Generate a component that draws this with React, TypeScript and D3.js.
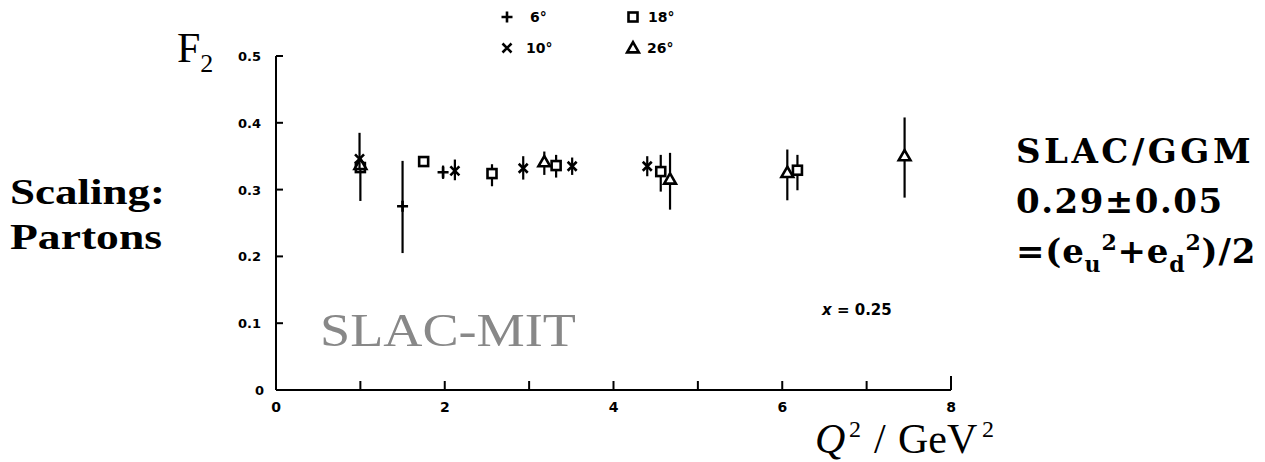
import React from "react";
import * as d3 from "d3";

// F2 structure function at x = 0.25 versus Q^2, grouped by spectrometer angle
type Pt = { q: number; f: number; lo: number; hi: number };

const deg6: Pt[] = [
  { q: 1.5, f: 0.275, lo: 0.205, hi: 0.343 },
  { q: 1.98, f: 0.326, lo: 0.316, hi: 0.336 },
];
const deg10: Pt[] = [
  { q: 0.99, f: 0.346, lo: 0.33, hi: 0.385 },
  { q: 2.12, f: 0.328, lo: 0.314, hi: 0.345 },
  { q: 2.93, f: 0.332, lo: 0.315, hi: 0.35 },
  { q: 3.51, f: 0.335, lo: 0.322, hi: 0.348 },
  { q: 4.4, f: 0.335, lo: 0.32, hi: 0.35 },
];
const deg18: Pt[] = [
  { q: 1.0, f: 0.333, lo: 0.283, hi: 0.345 },
  { q: 1.75, f: 0.342, lo: 0.335, hi: 0.35 },
  { q: 2.56, f: 0.324, lo: 0.305, hi: 0.338 },
  { q: 3.32, f: 0.336, lo: 0.318, hi: 0.352 },
  { q: 4.56, f: 0.327, lo: 0.297, hi: 0.352 },
  { q: 6.18, f: 0.329, lo: 0.299, hi: 0.352 },
];
const deg26: Pt[] = [
  { q: 1.0, f: 0.336, lo: 0.325, hi: 0.345 },
  { q: 3.18, f: 0.34, lo: 0.322, hi: 0.357 },
  { q: 4.67, f: 0.314, lo: 0.27, hi: 0.355 },
  { q: 6.06, f: 0.324, lo: 0.284, hi: 0.36 },
  { q: 7.45, f: 0.349, lo: 0.288, hi: 0.408 },
];

const xTicks = [0, 2, 4, 6, 8];
const xMinor = [1, 2, 3, 4, 5, 6, 7, 8];
const yTicks = [0, 0.1, 0.2, 0.3, 0.4, 0.5];

const x = d3.scaleLinear().domain([0, 8]).range([276, 951]);
const y = d3.scaleLinear().domain([0, 0.5]).range([390, 56]);

const ink = "#000";

function Marker({ kind, cx, cy }: { kind: string; cx: number; cy: number }) {
  const s = 4.5;
  if (kind === "plus")
    return (
      <path
        d={`M${cx - s - 1},${cy}H${cx + s + 1}M${cx},${cy - s - 1}V${cy + s + 1}`}
        stroke={ink}
        strokeWidth={2.6}
      />
    );
  if (kind === "cross")
    return (
      <path
        d={`M${cx - s},${cy - s}L${cx + s},${cy + s}M${cx + s},${cy - s}L${cx - s},${cy + s}`}
        stroke={ink}
        strokeWidth={2.6}
      />
    );
  if (kind === "square")
    return (
      <rect
        x={cx - s}
        y={cy - s}
        width={2 * s}
        height={2 * s}
        fill="#fff"
        stroke={ink}
        strokeWidth={2.6}
      />
    );
  const sym = d3.symbol(d3.symbolTriangle, 60)();
  return (
    <path
      d={sym as string}
      transform={`translate(${cx},${cy})`}
      fill="#fff"
      stroke={ink}
      strokeWidth={2.6}
    />
  );
}

function Series({ data, kind }: { data: Pt[]; kind: string }) {
  return (
    <g>
      {data.map((d, i) => (
        <g key={i}>
          <line
            x1={x(d.q)}
            x2={x(d.q)}
            y1={y(d.lo)}
            y2={y(d.hi)}
            stroke={ink}
            strokeWidth={2.2}
          />
          <Marker kind={kind} cx={x(d.q)} cy={y(d.f)} />
        </g>
      ))}
    </g>
  );
}

const tickFont = "'DejaVu Sans', Arial, sans-serif";
const times = "'Liberation Serif', 'Times New Roman', serif";
const wideSerif = "'DejaVu Serif', 'Liberation Serif', serif";

export default function App() {
  return (
    <svg
      width={1265}
      height={462}
      style={{ position: "absolute", left: 0, top: 0, background: "#fff" }}
    >
      {/* axes */}
      <line x1={x(0)} x2={x(0)} y1={y(0)} y2={y(0.5)} stroke={ink} strokeWidth={2} />
      <line x1={x(0)} x2={x(8)} y1={y(0)} y2={y(0)} stroke={ink} strokeWidth={2} />
      {yTicks.slice(1).map((t) => (
        <line key={t} x1={x(0)} x2={x(0) + 7} y1={y(t)} y2={y(t)} stroke={ink} strokeWidth={2} />
      ))}
      {yTicks.map((t) => (
        <text
          key={t}
          x={t === 0 ? x(0) - 12 : x(0) - 15}
          y={y(t) + 5}
          textAnchor="end"
          fontFamily={tickFont}
          fontWeight="bold"
          fontSize={13}
        >
          {t === 0 ? "0" : d3.format(".1f")(t)}
        </text>
      ))}
      {xMinor.map((t) => (
        <line
          key={t}
          x1={x(t)}
          x2={x(t)}
          y1={y(0)}
          y2={y(0) - (t === 8 ? 14 : 9)}
          stroke={ink}
          strokeWidth={2}
        />
      ))}
      {xTicks.map((t) => (
        <text
          key={t}
          x={x(t)}
          y={y(0) + 22}
          textAnchor="middle"
          fontFamily={tickFont}
          fontWeight="bold"
          fontSize={14}
        >
          {t}
        </text>
      ))}

      {/* data */}
      <Series data={deg18} kind="square" />
      <Series data={deg26} kind="triangle" />
      <Series data={deg10} kind="cross" />
      <Series data={deg6} kind="plus" />

      {/* legend */}
      <g fontFamily={tickFont} fontWeight="bold" fontSize={14}>
        <Marker kind="plus" cx={507} cy={17} />
        <text x={530} y={22}>6°</text>
        <Marker kind="square" cx={633} cy={17} />
        <text x={648} y={22}>18°</text>
        <Marker kind="cross" cx={507} cy={48} />
        <text x={526} y={53}>10°</text>
        <Marker kind="triangle" cx={633} cy={49} />
        <text x={647} y={53}>26°</text>
      </g>

      {/* axis titles */}
      <text x={177} y={62} fontFamily={times} fontSize={42}>
        F
        <tspan fontSize={26} dy={10}>2</tspan>
      </text>
      <text y={453} fontFamily={times} fontSize={42}>
        <tspan x={815} fontStyle="italic">Q</tspan>
        <tspan x={849} dy={-16} fontSize={24}>2</tspan>
        <tspan x={874} dy={16}>/</tspan>
        <tspan x={898}>GeV</tspan>
        <tspan x={982} dy={-16} fontSize={24}>2</tspan>
      </text>

      <text x={822} y={315} fontFamily={tickFont} fontWeight="bold" fontSize={15}>
        <tspan fontStyle="italic">x</tspan> = 0.25
      </text>

      <text
        x={320}
        y={346}
        fontFamily={times}
        fontSize={46}
        fill="#888"
        textLength={256}
        lengthAdjust="spacingAndGlyphs"
      >
        SLAC-MIT
      </text>

      {/* annotations */}
      <g fontFamily={times} fontWeight="bold" fontSize={36}>
        <text x={10} y={204} textLength={155} lengthAdjust="spacingAndGlyphs">
          Scaling:
        </text>
        <text x={10} y={249} textLength={152} lengthAdjust="spacingAndGlyphs">
          Partons
        </text>
      </g>
      <g fontFamily={wideSerif} fontWeight="bold" fontSize={34}>
        <text x={1016} y={163} letterSpacing={3.5}>
          SLAC/GGM
        </text>
        <text x={1016} y={213} letterSpacing={1.5}>
          0.29±0.05
        </text>
        <text x={1016} y={263} letterSpacing={0.8}>
          =(e<tspan fontSize={22} dy={9}>u</tspan>
          <tspan fontSize={22} dy={-22}>2</tspan>
          <tspan dy={13}>+e</tspan>
          <tspan fontSize={22} dy={9}>d</tspan>
          <tspan fontSize={22} dy={-22}>2</tspan>
          <tspan dy={13}>)/2</tspan>
        </text>
      </g>
    </svg>
  );
}
